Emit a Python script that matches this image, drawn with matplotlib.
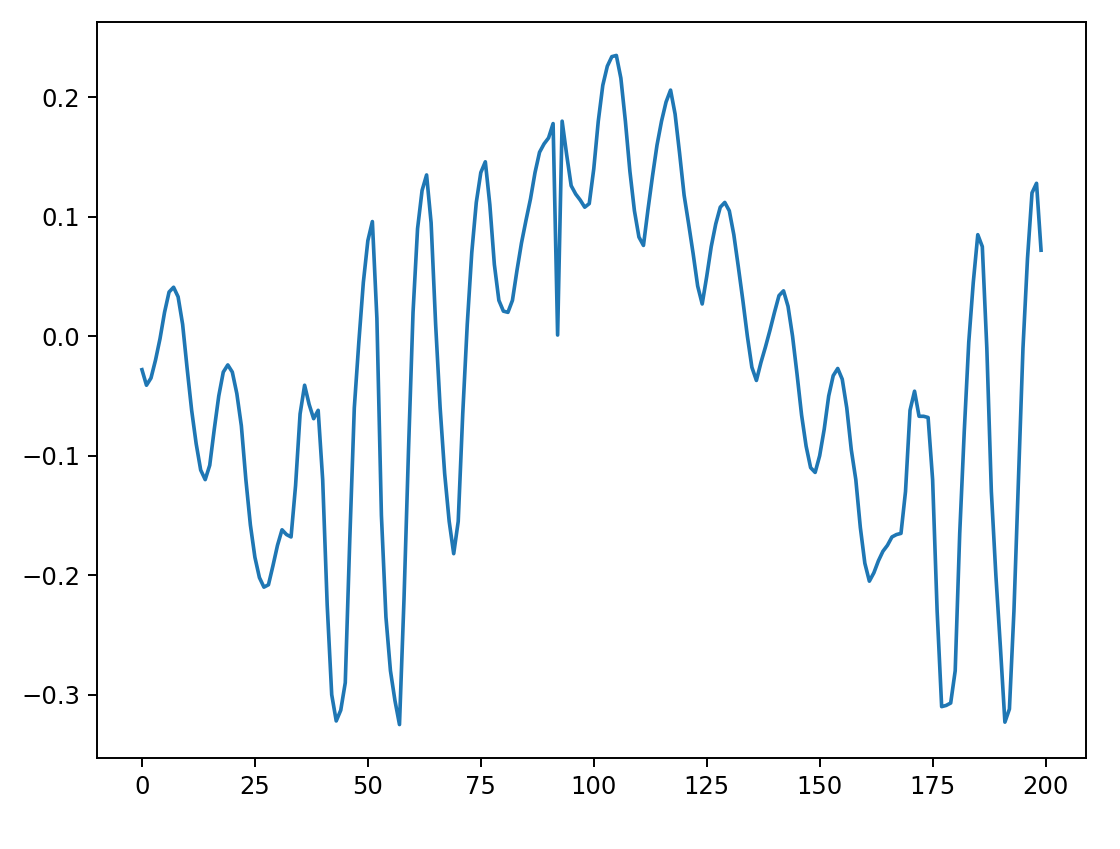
import numpy as np
import matplotlib
matplotlib.use("Agg")
import matplotlib.pyplot as plt

# values, one per sample index 0..199
signal = [
    -0.028, -0.041, -0.035, -0.020, -0.002, 0.020, 0.037, 0.041, 0.033, 0.010,
    -0.027, -0.062, -0.090, -0.112, -0.120, -0.108, -0.078, -0.050, -0.030, -0.024,
    -0.030, -0.048, -0.075, -0.120, -0.158, -0.185, -0.202, -0.210, -0.208, -0.192,
    -0.175, -0.162, -0.166, -0.168, -0.125, -0.065, -0.041, -0.057, -0.069, -0.062,
    -0.120, -0.225, -0.300, -0.322, -0.313, -0.290, -0.170, -0.060, -0.005, 0.045,
    0.080, 0.096, 0.015, -0.150, -0.235, -0.280, -0.305, -0.325, -0.220, -0.095,
    0.020, 0.090, 0.122, 0.135, 0.095, 0.010, -0.060, -0.115, -0.155, -0.182,
    -0.155, -0.065, 0.010, 0.070, 0.112, 0.137, 0.146, 0.110, 0.060, 0.030,
    0.021, 0.020, 0.030, 0.055, 0.078, 0.097, 0.115, 0.137, 0.154, 0.161,
    0.166, 0.178, 0.001, 0.180, 0.152, 0.126, 0.119, 0.114, 0.108, 0.111,
    0.140, 0.180, 0.210, 0.226, 0.234, 0.235, 0.216, 0.180, 0.138, 0.105,
    0.083, 0.076, 0.106, 0.134, 0.160, 0.180, 0.196, 0.206, 0.186, 0.153,
    0.118, 0.094, 0.069, 0.042, 0.027, 0.050, 0.075, 0.094, 0.108, 0.112,
    0.105, 0.085, 0.058, 0.030, 0.000, -0.026, -0.037, -0.022, -0.009, 0.005,
    0.020, 0.034, 0.038, 0.025, 0.000, -0.032, -0.066, -0.092, -0.110, -0.114,
    -0.100, -0.078, -0.050, -0.033, -0.027, -0.036, -0.060, -0.095, -0.120, -0.160,
    -0.190, -0.205, -0.198, -0.188, -0.180, -0.175, -0.168, -0.166, -0.165, -0.130,
    -0.062, -0.046, -0.067, -0.067, -0.068, -0.120, -0.230, -0.310, -0.309, -0.307,
    -0.280, -0.165, -0.080, -0.005, 0.045, 0.085, 0.075, -0.010, -0.130, -0.200,
    -0.260, -0.323, -0.312, -0.230, -0.120, -0.010, 0.065, 0.120, 0.128, 0.072,
]

fig = plt.figure(figsize=(1120 / 175, 849 / 175), dpi=175)
ax = fig.add_axes([97 / 1120, 1 - 758 / 849, (1086 - 97) / 1120, (758 - 22) / 849])
ax.plot(np.arange(len(signal)), signal)

fig.savefig("out.png", dpi=175)
